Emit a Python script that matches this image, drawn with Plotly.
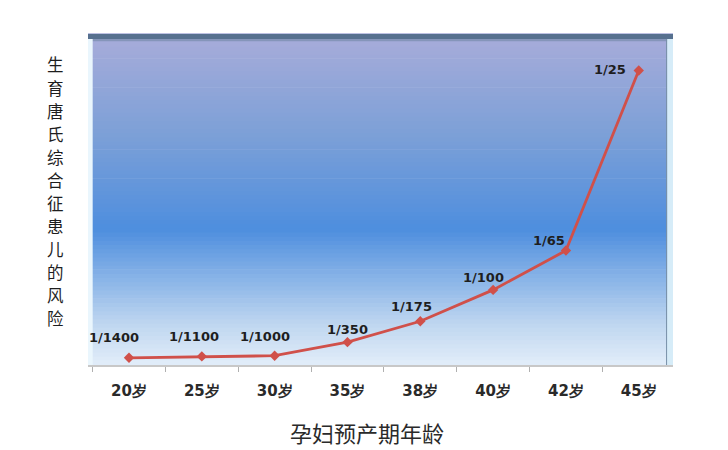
import plotly.graph_objects as go

categories = ["20岁", "25岁", "30岁", "35岁", "38岁", "40岁", "42岁", "45岁"]
denominators = [1400, 1100, 1000, 350, 175, 100, 65, 25]
risk = [1.0 / d for d in denominators]
labels = ["1/%d" % d for d in denominators]

# label offsets (pixels) relative to each point
label_dx = [-15, -8, -10, 0, -9, -10, -17, -29]
label_dy = [20, 20, 19, 13, 15, 12, 10, 1]

y_title = "生育唐氏综合征患儿的风险"
x_title = "孕妇预产期年龄"

fig = go.Figure()
fig.add_trace(go.Scatter(
    x=categories, y=risk, mode="lines+markers",
    line=dict(color="#D0504A", width=2.8),
    marker=dict(symbol="diamond", size=8, color="#D0504A"),
    hoverinfo="skip", showlegend=False,
))

for c, v, t, dx, dy in zip(categories, risk, labels, label_dx, label_dy):
    fig.add_annotation(x=c, y=v, text="<b>%s</b>" % t, showarrow=False,
                       xshift=dx, yshift=dy, borderpad=0,
                       font=dict(family="DejaVu Sans", size=13, color="#1E1E1E"))

# gradient background (styling) via stacked rects in paper coords
stops = [(0.0, (226, 237, 249)), (0.12, (192, 215, 240)), (0.41, (78, 142, 222)),
         (0.7, (125, 160, 215)), (1.0, (168, 172, 218))]
def col(p):
    for (p0, c0), (p1, c1) in zip(stops[:-1], stops[1:]):
        if p0 <= p <= p1:
            f = (p - p0) / (p1 - p0)
            return "rgb(%d,%d,%d)" % tuple(round(a + (b - a) * f) for a, b in zip(c0, c1))
    return "rgb(%d,%d,%d)" % stops[-1][1]
N = 80
for i in range(N):
    y0 = i / N
    y1 = (i + 1) / N
    fig.add_shape(type="rect", xref="paper", yref="paper", x0=0, x1=1, y0=y0, y1=y1 + 0.002,
                  fillcolor=col((y0 + y1) / 2), line=dict(width=0), layer="below")

# bevel frame
fig.add_shape(type="rect", xref="paper", yref="paper", x0=0, x1=1, y0=0.985, y1=1.0,
              fillcolor="#56708F", line=dict(width=0), layer="below")
fig.add_shape(type="rect", xref="paper", yref="paper", x0=0, x1=1, y0=0.978, y1=0.985,
              fillcolor="#8595BA", line=dict(width=0), layer="below")
fig.add_shape(type="rect", xref="paper", yref="paper", x0=0, x1=0.008, y0=0, y1=0.985,
              fillcolor="#EAF6FD", line=dict(width=0), layer="below")
fig.add_shape(type="rect", xref="paper", yref="paper", x0=0.99, x1=1.0, y0=0, y1=0.985,
              fillcolor="#D6ECF8", line=dict(width=0), layer="below")
fig.add_shape(type="line", xref="paper", yref="paper", x0=0.989, x1=0.989, y0=0, y1=0.985,
              line=dict(color="#7890A8", width=1), layer="below")

# vertical y-axis title, one character per line
top_y, pitch = 0.908, 0.0697
for i, ch in enumerate(y_title):
    fig.add_annotation(xref="paper", yref="paper", x=-0.0564, y=top_y - i * pitch,
                       xanchor="center", yanchor="middle", text=ch, showarrow=False,
                       borderpad=0,
                       font=dict(family="Noto Sans CJK SC", size=16.5, color="#1E1E1E"))

fig.add_annotation(xref="paper", yref="paper", x=0.477, y=-0.202, xanchor="center", yanchor="middle",
                   text=x_title, showarrow=False,
                   font=dict(family="Noto Sans CJK SC", size=22, color="#2A2A2A"))

fig.update_layout(
    width=728, height=450,
    margin=dict(l=80, r=63, t=26, b=93),
    paper_bgcolor="white", plot_bgcolor="white",
    xaxis=dict(type="category", tickson="boundaries", ticks="outside", ticklen=5,
               tickcolor="#B0B0B0", showline=True, linecolor="#C8C8C8", linewidth=1.5,
               showgrid=False, ticklabelstandoff=11,
               tickfont=dict(family="DejaVu Sans", size=15, color="#2A2A2A", weight="bold")),
    yaxis=dict(range=[-0.00027, 0.045], showticklabels=False, showgrid=False,
               zeroline=False, showline=False, ticks=""),
)

fig.write_html("out.html")
